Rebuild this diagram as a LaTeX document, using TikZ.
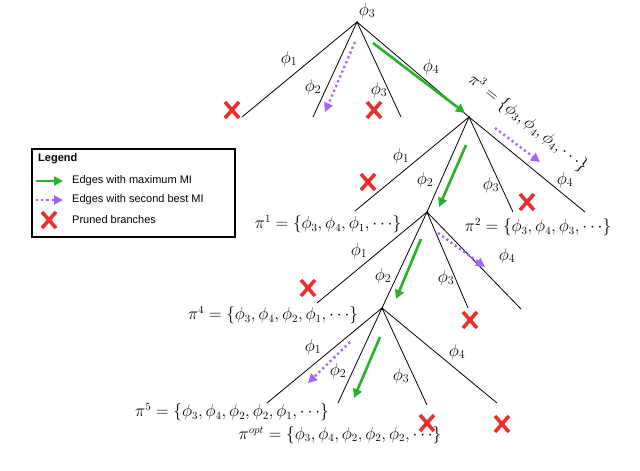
\documentclass[tikz,border=0pt]{standalone}
\usepackage{fontspec}
\newfontfamily\legendfont{Liberation Sans}
\usetikzlibrary{arrows.meta,positioning}
\definecolor{migreen}{RGB}{40,178,40}
\definecolor{mipurple}{RGB}{165,100,250}
\definecolor{prunered}{RGB}{235,45,45}
\tikzset{
	edge/.style={black,line width=0.8pt},
	lbl/.style={inner sep=0pt,font=\fontsize{16}{19}\selectfont},
	philbl/.style={inner sep=0pt,font=\fontsize{18.5}{22}\selectfont},
	legtext/.style={anchor=west,inner sep=0pt,font=\legendfont\fontsize{11}{13}\selectfont},
	maxmi/.style={migreen,line width=2.6pt,-{Triangle[length=9pt,width=9pt]}},
	secmi/.style={mipurple,line width=2.4pt,dash pattern=on 2.2pt off 3pt,-{Triangle[length=9pt,width=9pt]}},
	prunedmark/.pic={
		\draw[prunered,line width=3.6pt] (-7,-8) -- (7,8) (-7,8) -- (7,-8);
	}
}

\begin{document}
\begin{tikzpicture}[x=1pt,y=-1pt]
		\useasboundingbox (0,0) rectangle (640,471);
		\coordinate (n0) at (357,22);
		\coordinate (n1) at (469,117);
		\coordinate (n2) at (427,212);
		\coordinate (n3) at (382,308);
		\coordinate (l01) at (242,117);
		\coordinate (l02) at (313,117);
		\coordinate (l03) at (401,117);
		\coordinate (l11) at (355,211);
		\coordinate (l13) at (513,212);
		\coordinate (l14) at (585,212);
		\coordinate (l21) at (317,303);
		\coordinate (l23) at (468,308);
		\coordinate (l24) at (521,309);
		\coordinate (l31) at (267,403);
		\coordinate (l32) at (338,403);
		\coordinate (l33) at (427,405);
		\coordinate (l34) at (497,403);
		\draw[edge] (l01) -- (n0) -- (l02) (n0) -- (l03) (n0) -- (n1);
		\draw[edge] (l11) -- (n1) -- (n2) (n1) -- (l13) (n1) -- (l14);
		\draw[edge] (l21) -- (n2) -- (n3) (n2) -- (l23) (n2) -- (l24);
		\draw[edge] (l31) -- (n3) -- (l32) (n3) -- (l33) (n3) -- (l34);
		\node[philbl] (r3) at (367,11) {$\phi_3$};
		\node[philbl] (a1) at (289,59) {$\phi_1$};
		\node[philbl] (a2) at (313,87) {$\phi_2$};
		\node[philbl] (a3) at (379,90) {$\phi_3$};
		\node[philbl] (a4) at (431,67) {$\phi_4$};
		\node[philbl] (b1) at (401,156) {$\phi_1$};
		\node[philbl] (b2) at (425,180) {$\phi_2$};
		\node[philbl] (b3) at (491,185) {$\phi_3$};
		\node[philbl] (b4) at (565,180) {$\phi_4$};
		\node[philbl] (c1) at (359,251) {$\phi_1$};
		\node[philbl] (c2) at (383,276) {$\phi_2$};
		\node[philbl] (c3) at (446,278) {$\phi_3$};
		\node[philbl] (c4) at (507,256) {$\phi_4$};
		\node[philbl] (d1) at (313,347) {$\phi_1$};
		\node[philbl] (d2) at (338,371) {$\phi_2$};
		\node[philbl] (d3) at (401,376) {$\phi_3$};
		\node[philbl] (d4) at (457,352) {$\phi_4$};
		\node[lbl,rotate=-38] (pi3) at (528,123) {$\pi^3=\{\phi_3,\phi_4,\phi_4,\cdots\}$};
		\node[lbl] (pi1) at (328,224) {$\pi^1=\{\phi_3,\phi_4,\phi_1,\cdots\}$};
		\node[lbl] (pi2) at (538,227) {$\pi^2=\{\phi_3,\phi_4,\phi_3,\cdots\}$};
		\node[lbl] (pi4) at (273,315) {$\pi^4=\{\phi_3,\phi_4,\phi_2,\phi_1,\cdots\}$};
		\node[lbl] (pi5) at (232,412) {$\pi^5=\{\phi_3,\phi_4,\phi_2,\phi_2,\phi_1,\cdots\}$};
		\node[lbl] (piopt) at (340,435) {$\pi^{opt}=\{\phi_3,\phi_4,\phi_2,\phi_2,\phi_2,\cdots\}$};
		\draw[maxmi] (373,43) -- (465,113);
		\draw[maxmi] (466,145) -- (439,207);
		\draw[maxmi] (421,239) -- (396,299);
		\draw[maxmi] (380,337) -- (354,398);
		\draw[secmi] (355,42) -- (325,112);
		\draw[secmi] (495,128) -- (540,162);
		\draw[secmi] (438,233) -- (485,267);
		\draw[secmi] (350,342) -- (308,383);
		\pic at (232,110) {prunedmark};
		\pic at (374,110) {prunedmark};
		\pic at (368,182) {prunedmark};
		\pic at (527,202) {prunedmark};
		\pic at (308,288) {prunedmark};
		\pic at (470,320) {prunedmark};
		\pic at (427,423) {prunedmark};
		\pic at (502,424) {prunedmark};
		\draw[black,line width=2.2pt] (32,149) rectangle (235,237);
		\node[legtext,font=\legendfont\bfseries\fontsize{11}{13}\selectfont] (leg) at (38,159) {Legend};
		\draw[maxmi] (36,181) -- (63,181);
		\draw[secmi] (36,200) -- (63,200);
		\pic at (49,220) {prunedmark};
		\node[legtext] (legmax) at (72,181) {Edges with maximum MI};
		\node[legtext] (legsec) at (72,200) {Edges with second best MI};
		\node[legtext] (legpru) at (72,220) {Pruned branches};
	\end{tikzpicture}
\end{document}
